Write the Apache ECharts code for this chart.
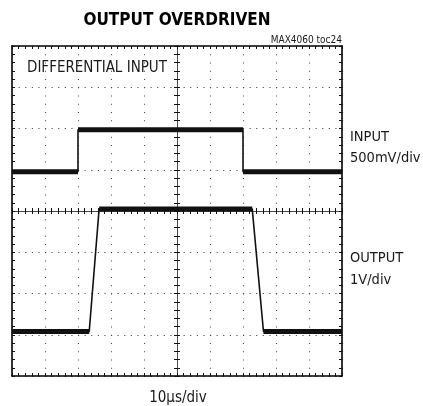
<!DOCTYPE html>
<html><head><meta charset="utf-8">
<script src="https://cdn.jsdelivr.net/npm/echarts@6/dist/echarts.min.js"></script>
<style>html,body{margin:0;padding:0;background:#fff}#c{width:423px;height:406px}</style>
</head><body><div id="c"></div>
<script>
// ---- data ----
const titleText = 'OUTPUT OVERDRIVEN';
const tocText = 'MAX4060 toc24';
const panelLabel = 'DIFFERENTIAL INPUT';
const inputLabel = ['INPUT', '500mV/div'];
const outputLabel = ['OUTPUT', '1V/div'];
const xLabel = '10\u00b5s/div';
const timeRange = [0, 100];   // µs (10 µs/div, 10 div)
const divRange = [0, 8];      // vertical divisions
// traces: [time µs, vertical position in divisions]
const inputTrace = [[0, 4.95], [20, 4.95], [20, 5.97], [70, 5.97], [70, 4.95], [100, 4.95]];
const outputTrace = [[0, 1.08], [23.4, 1.08], [26.4, 4.05], [72.8, 4.05], [76.2, 1.08], [100, 1.08]];

// ---- chart ----
const FONT = "'Liberation Sans Narrow', 'DejaVu Sans Condensed', 'Roboto', sans-serif";
const chart = echarts.init(document.getElementById('c'), null, {renderer: 'canvas'});
const G = {left: 12, top: 46, width: 330, height: 330};

function flats(tr) {
  const segs = [];
  for (let i = 0; i < tr.length - 1; i++) {
    if (tr[i][1] === tr[i + 1][1]) segs.push([tr[i], tr[i + 1]]);
  }
  return segs;
}

const tickStyle = {color: '#111', width: 1};
function xAx(pos, offset, inside, border, split) {
  return {
    type: 'value', min: timeRange[0], max: timeRange[1], interval: 10, position: pos, offset: offset,
    axisLine: {show: true, onZero: false, lineStyle: border ? {color: '#000', width: 1.6} : {color: '#444', width: 0.8}},
    axisTick: {show: true, inside: inside, length: 3, lineStyle: tickStyle},
    minorTick: {show: true, splitNumber: 5, length: 3, lineStyle: tickStyle},
    axisLabel: {show: false},
    splitLine: {show: !!split, lineStyle: {color: '#444', width: 1.1, type: [1.1, 7.15]}},
    minorSplitLine: {show: false}
  };
}
function yAx(pos, offset, inside, border, split) {
  return {
    type: 'value', min: divRange[0], max: divRange[1], interval: 1, position: pos, offset: offset,
    axisLine: {show: true, onZero: false, lineStyle: border ? {color: '#000', width: 1.6} : {color: '#444', width: 0.8}},
    axisTick: {show: true, inside: inside, length: 3, lineStyle: tickStyle},
    minorTick: {show: true, splitNumber: 5, length: 3, lineStyle: tickStyle},
    axisLabel: {show: false},
    splitLine: {show: !!split, lineStyle: {color: '#444', width: 1.1, type: [1.1, 5.5]}},
    minorSplitLine: {show: false}
  };
}

const series = [];
[inputTrace, outputTrace].forEach(tr => {
  series.push({type: 'line', data: tr, symbol: 'none', silent: true,
    lineStyle: {color: '#111', width: 1.6}, z: 5});
  flats(tr).forEach(seg => series.push({type: 'line', data: seg, symbol: 'none', silent: true,
    lineStyle: {color: '#111', width: 5}, z: 6}));
});

const txt = (t, x, y, size, extra) => ({type: 'text', x: x, y: y, silent: true,
  style: Object.assign({text: t, fill: '#1a1a1a', font: size + 'px ' + FONT}, extra || {})});

chart.setOption({
  animation: false,
  backgroundColor: '#fff',
  grid: G,
  xAxis: [
    xAx('bottom', 0, true, true, true),
    xAx('top', 0, true, true, false),
    xAx('bottom', -165, true, false, false),
    xAx('bottom', -165, false, false, false)
  ],
  yAxis: [
    yAx('left', 0, true, true, true),
    yAx('right', 0, true, true, false),
    yAx('left', -165, true, false, false),
    yAx('left', -165, false, false, false)
  ],
  series: series,
  graphic: [
    txt(titleText, 177, 21, 17, {textAlign: 'center', textVerticalAlign: 'middle', font: 'bold 17px ' + FONT, fill: '#000'}),
    txt(tocText, 342, 40, 10, {textAlign: 'right', textVerticalAlign: 'middle'}),
    txt(panelLabel, 27, 68, 15, {textAlign: 'left', textVerticalAlign: 'middle'}),
    txt(inputLabel[0], 350, 137, 14.5, {textAlign: 'left', textVerticalAlign: 'middle'}),
    txt(inputLabel[1], 350, 158, 14.5, {textAlign: 'left', textVerticalAlign: 'middle'}),
    txt(outputLabel[0], 350, 258, 14.5, {textAlign: 'left', textVerticalAlign: 'middle'}),
    txt(outputLabel[1], 350, 280, 14.5, {textAlign: 'left', textVerticalAlign: 'middle'}),
    txt(xLabel, 178, 398, 15, {textAlign: 'center', textVerticalAlign: 'middle'})
  ]
});
</script></body></html>
